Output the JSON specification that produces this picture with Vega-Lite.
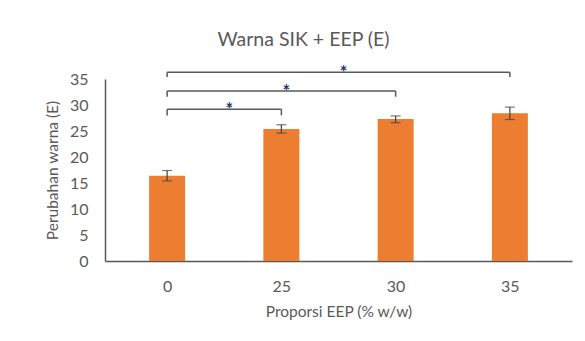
{
  "$schema": "https://vega.github.io/schema/vega-lite/v6.json",
  "width": 467,
  "height": 182,
  "autosize": {"type": "none"},
  "padding": {"left": 105, "top": 79, "right": 13, "bottom": 80},
  "background": "white",
  "title": {
    "text": "Warna SIK + EEP (E)",
    "font": "Lato",
    "fontSize": 19.5,
    "fontWeight": "normal",
    "color": "#595959",
    "anchor": "middle",
    "offset": 15,
    "dx": -35
  },
  "config": {
    "view": {"stroke": null},
    "font": "Lato",
    "axis": {
      "labelFont": "Lato",
      "titleFont": "Lato",
      "labelColor": "#595959",
      "titleColor": "#595959",
      "titleFontWeight": "normal",
      "domainColor": "#595959",
      "domainWidth": 1.5,
      "ticks": false,
      "grid": false,
      "labelOverlap": false
    },
    "axisY": {"tickCount": 8, "labelOverlap": false}
  },
  "datasets": {
    "bars": [
      {"idx": 0, "proporsi": "0", "mean": 16.4, "lower": 15.4, "upper": 17.4},
      {"idx": 1, "proporsi": "25", "mean": 25.4, "lower": 24.6, "upper": 26.2},
      {"idx": 2, "proporsi": "30", "mean": 27.3, "lower": 26.6, "upper": 27.9},
      {"idx": 3, "proporsi": "35", "mean": 28.4, "lower": 27.2, "upper": 29.6}
    ],
    "brackets": [
      {"from": 0, "to": 1, "level": 29.2, "low": 28.0, "label": "*"},
      {"from": 0, "to": 2, "level": 32.7, "low": 31.6, "label": "*"},
      {"from": 0, "to": 3, "level": 36.3, "low": 35.4, "label": "*"}
    ]
  },
  "layer": [
    {
      "data": {"name": "bars"},
      "mark": {"type": "bar", "width": 36, "color": "#ED7D31"},
      "encoding": {
        "x": {
          "field": "idx",
          "type": "quantitative",
          "scale": {"domain": [-0.5, 3.5], "nice": false, "zero": false},
          "axis": {
            "values": [0, 1, 2, 3],
            "labelExpr": "datum.value == 0 ? '0' : datum.value == 1 ? '25' : datum.value == 2 ? '30' : '35'",
            "labelFontSize": 16,
            "labelPadding": 17,
            "labelOverlap": false,
            "title": "Proporsi EEP (% w/w)",
            "titleFontSize": 15.5,
            "titlePadding": 10
          }
        },
        "y": {
          "field": "mean",
          "type": "quantitative",
          "scale": {"domain": [0, 35], "nice": false},
          "axis": {
            "values": [0, 5, 10, 15, 20, 25, 30, 35],
            "tickCount": 8,
            "labelFontSize": 16,
            "labelPadding": 17,
            "labelOverlap": false,
            "labelFlush": false,
            "title": "Perubahan warna (E)",
            "titleFontSize": 15.5,
            "titlePadding": 9
          }
        }
      }
    },
    {
      "data": {"name": "bars"},
      "mark": {"type": "rule", "color": "#404040", "strokeWidth": 1.2},
      "encoding": {
        "x": {"field": "idx", "type": "quantitative"},
        "y": {"field": "lower", "type": "quantitative"},
        "y2": {"field": "upper"}
      }
    },
    {
      "data": {"name": "bars"},
      "mark": {"type": "tick", "orient": "horizontal", "color": "#404040", "size": 10, "thickness": 1.2},
      "encoding": {
        "x": {"field": "idx", "type": "quantitative"},
        "y": {"field": "lower", "type": "quantitative"}
      }
    },
    {
      "data": {"name": "bars"},
      "mark": {"type": "tick", "orient": "horizontal", "color": "#404040", "size": 10, "thickness": 1.2},
      "encoding": {
        "x": {"field": "idx", "type": "quantitative"},
        "y": {"field": "upper", "type": "quantitative"}
      }
    },
    {
      "data": {"name": "brackets"},
      "mark": {"type": "rule", "color": "#595959", "strokeWidth": 1.5},
      "encoding": {
        "x": {"field": "from", "type": "quantitative"},
        "x2": {"field": "to"},
        "y": {"field": "level", "type": "quantitative"}
      }
    },
    {
      "data": {"name": "brackets"},
      "mark": {"type": "rule", "color": "#595959", "strokeWidth": 1.5},
      "encoding": {
        "x": {"field": "from", "type": "quantitative"},
        "y": {"field": "level", "type": "quantitative"},
        "y2": {"field": "low"}
      }
    },
    {
      "data": {"name": "brackets"},
      "mark": {"type": "rule", "color": "#595959", "strokeWidth": 1.5},
      "encoding": {
        "x": {"field": "to", "type": "quantitative"},
        "y": {"field": "level", "type": "quantitative"},
        "y2": {"field": "low"}
      }
    },
    {
      "data": {"name": "brackets"},
      "transform": [{"calculate": "(datum.from + datum.to) / 2", "as": "mid"}],
      "mark": {"type": "text", "color": "#1F3864", "fontSize": 18, "fontWeight": "bold", "baseline": "middle", "dx": 5, "dy": 2},
      "encoding": {
        "x": {"field": "mid", "type": "quantitative"},
        "y": {"field": "level", "type": "quantitative"},
        "text": {"field": "label"}
      }
    }
  ]
}
